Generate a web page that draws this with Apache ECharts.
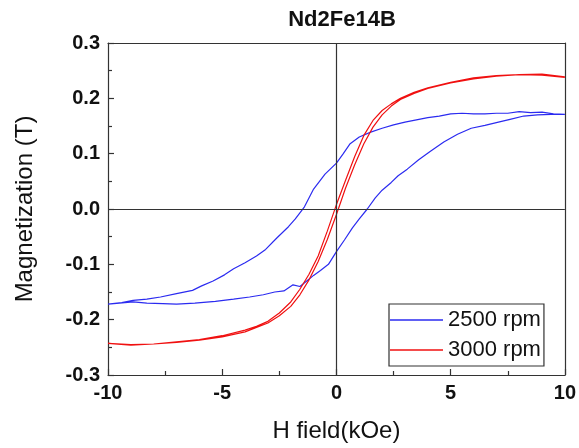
<!DOCTYPE html>
<html>
<head>
<meta charset="utf-8">
<script src="https://cdn.jsdelivr.net/npm/echarts@6/dist/echarts.min.js"></script>
<style>
  html, body { margin: 0; padding: 0; background: #fff; }
  #chart { width: 579px; height: 448px; }
</style>
</head>
<body>
<div id="chart"></div>
<script>
// 2500 rpm loop: descending branch (+10 -> -10), then ascending branch (-10 -> +10)
const rpm2500Down = [[10,0.171],[9.5,0.172],[9,0.175],[8.5,0.174],[8,0.176],[7.5,0.173],[7,0.173],[6.5,0.172],[6,0.172],[5.5,0.173],[5,0.172],[4.5,0.168],[4,0.165],[3.5,0.161],[3,0.157],[2.5,0.152],[2,0.146],[1.5,0.139],[1,0.130],[0.6,0.118],[0.3,0.100],[0,0.083],[-0.5,0.063],[-1,0.036],[-1.4,0.004],[-1.8,-0.018],[-2.1,-0.032],[-2.6,-0.052],[-3.1,-0.073],[-3.5,-0.085],[-4,-0.097],[-4.5,-0.108],[-4.9,-0.119],[-5.4,-0.130],[-5.9,-0.139],[-6.3,-0.147],[-7,-0.153],[-7.7,-0.159],[-8.3,-0.163],[-8.9,-0.165],[-9.4,-0.169],[-10,-0.172]]
const rpm2500Up = [[-10,-0.172],[-9.5,-0.170],[-8.9,-0.168],[-8.3,-0.170],[-7.6,-0.171],[-7,-0.172],[-6.2,-0.170],[-5.3,-0.167],[-4.5,-0.163],[-3.8,-0.159],[-3.2,-0.155],[-2.7,-0.150],[-2.3,-0.148],[-1.9,-0.137],[-1.6,-0.140],[-1.3,-0.130],[-1.0,-0.120],[-0.7,-0.111],[-0.35,-0.100],[0,-0.077],[0.35,-0.056],[0.7,-0.034],[1.0,-0.018],[1.35,0.0],[1.7,0.020],[2.0,0.034],[2.4,0.048],[2.7,0.060],[3.1,0.072],[3.6,0.089],[4.1,0.104],[4.7,0.121],[5.3,0.135],[5.9,0.146],[6.5,0.151],[7.0,0.156],[7.6,0.162],[8.2,0.168],[8.8,0.170],[9.4,0.171],[10,0.171]]

// 3000 rpm loop
const rpm3000Down = [[10,0.239],[9,0.244],[8,0.243],[7,0.241],[6,0.237],[5,0.229],[4,0.219],[3.4,0.211],[2.8,0.200],[2.4,0.190],[2,0.178],[1.6,0.160],[1.2,0.133],[0.8,0.095],[0.4,0.052],[0,0.008],[-0.4,-0.040],[-0.8,-0.085],[-1.2,-0.118],[-1.6,-0.145],[-2,-0.168],[-2.5,-0.188],[-3,-0.203],[-3.5,-0.212],[-4,-0.219],[-5,-0.229],[-6,-0.236],[-7,-0.240],[-8,-0.244],[-9,-0.245],[-10,-0.243]]
const rpm3000Up = [[-10,-0.243],[-9,-0.246],[-8,-0.244],[-7,-0.241],[-6,-0.237],[-5,-0.231],[-4,-0.222],[-3.5,-0.214],[-3,-0.206],[-2.5,-0.193],[-2,-0.176],[-1.6,-0.155],[-1.2,-0.128],[-0.8,-0.095],[-0.4,-0.055],[0,-0.010],[0.4,0.038],[0.8,0.080],[1.2,0.118],[1.6,0.148],[2,0.170],[2.4,0.186],[2.8,0.198],[3.4,0.209],[4,0.218],[5,0.228],[6,0.235],[7,0.240],[8,0.243],[9,0.242],[10,0.238]]

const seriesNames = ['2500 rpm', '3000 rpm']
const xTicks = ['-10', '-5', '0', '5', '10']
const yTicks = ['-0.3', '-0.2', '-0.1', '0.0', '0.1', '0.2', '0.3']

const font = 'Liberation Sans, Arial, sans-serif'
const axisColor = '#333'

const chart = echarts.init(document.getElementById('chart'))

const frameAxis = {
  type: 'value',
  axisLine: { show: true, onZero: false, lineStyle: { color: axisColor, width: 1.2 } },
  axisTick: { show: false },
  axisLabel: { show: false },
  splitLine: { show: false }
}

const tickStyle = { show: true, inside: true, length: 6, lineStyle: { color: axisColor, width: 1.2 } }
const minorStyle = { show: true, splitNumber: 2, length: 4, lineStyle: { color: axisColor, width: 1.2 } }

chart.setOption({
  animation: false,
  title: {
    text: 'Nd2Fe14B',
    left: 337,
    textAlign: 'center',
    top: 4,
    textStyle: { fontFamily: font, fontSize: 22, fontWeight: 'bold', color: '#111' }
  },
  grid: { left: 108, right: 11, top: 43, bottom: 67 },
  legend: {
    data: seriesNames,
    orient: 'vertical',
    left: 389,
    top: 304,
    padding: [5, 3, 5, 1],
    itemGap: 8,
    itemWidth: 53,
    itemHeight: 1.5,
    icon: 'rect',
    borderColor: axisColor,
    borderWidth: 1.2,
    textStyle: { fontFamily: font, fontSize: 22, color: '#111', lineHeight: 20 }
  },
  xAxis: [
    {
      type: 'value',
      min: -10,
      max: 10,
      interval: 5,
      position: 'bottom',
      name: 'H field(kOe)',
      nameLocation: 'middle',
      nameGap: 44,
      nameTextStyle: { fontFamily: font, fontSize: 24, color: '#111' },
      axisLine: { show: true, onZero: false, lineStyle: { color: axisColor, width: 1.2 } },
      axisTick: tickStyle,
      minorTick: minorStyle,
      axisLabel: {
        margin: 8,
        fontFamily: font, fontSize: 20, fontWeight: 'bold', color: '#111',
        formatter: v => xTicks[Math.round((v + 10) / 5)]
      },
      splitLine: { show: false }
    },
    Object.assign({ min: -10, max: 10, position: 'top' }, frameAxis)
  ],
  yAxis: [
    {
      type: 'value',
      min: -0.3,
      max: 0.3,
      interval: 0.1,
      position: 'left',
      name: 'Magnetization (T)',
      nameLocation: 'middle',
      nameGap: 71,
      nameRotate: 90,
      nameTextStyle: { fontFamily: font, fontSize: 24, color: '#111' },
      axisLine: { show: true, onZero: false, lineStyle: { color: axisColor, width: 1.2 } },
      axisTick: tickStyle,
      minorTick: minorStyle,
      axisLabel: {
        margin: 8,
        fontFamily: font, fontSize: 20, fontWeight: 'bold', color: '#111',
        formatter: v => yTicks[Math.round((v + 0.3) * 10)]
      },
      splitLine: { show: false }
    },
    Object.assign({ min: -0.3, max: 0.3, position: 'right' }, frameAxis)
  ],
  series: [
    {
      name: seriesNames[0],
      type: 'line',
      symbol: 'none',
      color: '#2b2bf0',
      lineStyle: { width: 1.2 },
      data: rpm2500Down.concat(rpm2500Up),
      markLine: {
        silent: true,
        symbol: ['none', 'none'],
        label: { show: false },
        lineStyle: { color: axisColor, type: 'solid', width: 1.2 },
        data: [{ xAxis: 0 }, { yAxis: 0 }]
      }
    },
    {
      name: seriesNames[1],
      type: 'line',
      symbol: 'none',
      color: '#f01010',
      lineStyle: { width: 1.2 },
      data: rpm3000Down.concat(rpm3000Up)
    }
  ]
})
</script>
</body>
</html>
